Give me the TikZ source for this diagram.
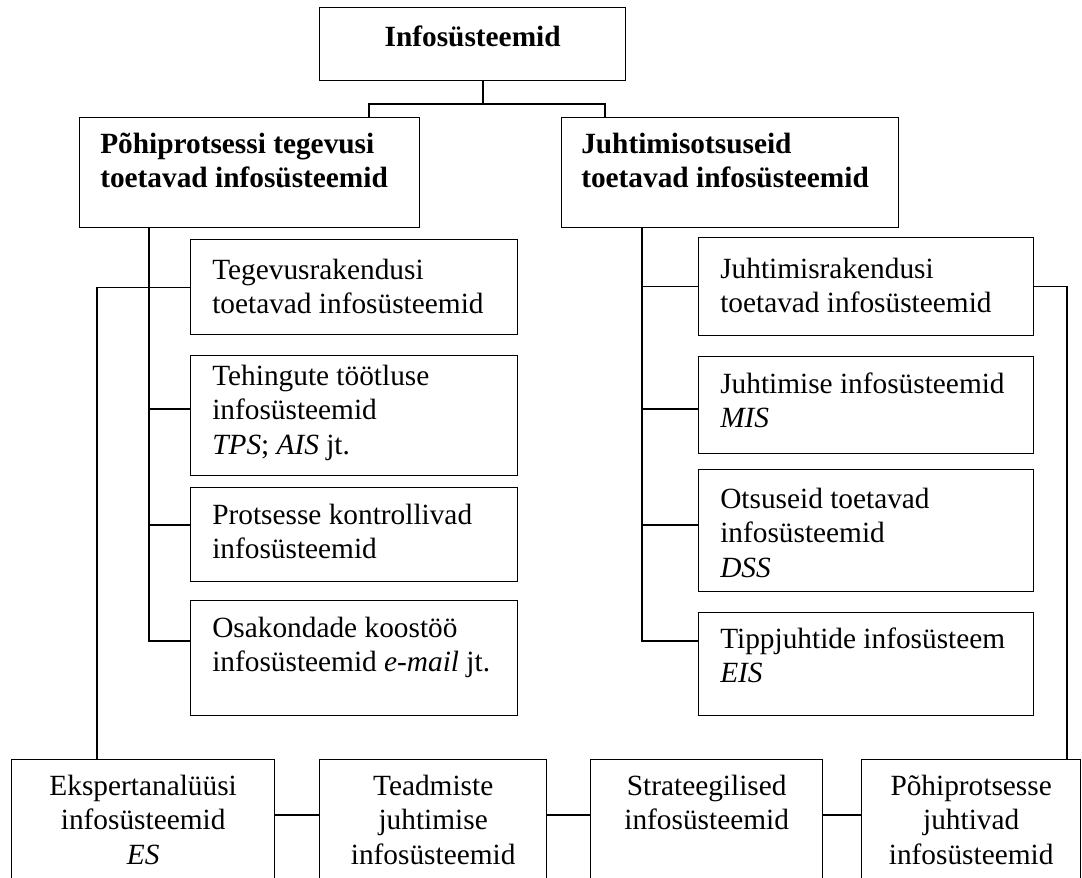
\documentclass[tikz,border=0pt]{standalone}
\usepackage{fontspec}
\setmainfont{Liberation Serif}
\usetikzlibrary{calc}

\newcommand\dfont{\fontsize{22}{25.9}\selectfont}

\tikzset{
  frame/.style={draw=black, line width=1pt, rectangle, inner sep=0pt, anchor=north west},
  wire/.style={draw=black, line width=1pt},
  ltext/.style={inner sep=0pt, anchor=north west, align=left, font=\dfont},
  ctext/.style={inner sep=0pt, anchor=north, align=center, font=\dfont},
  btext/.style={inner sep=0pt, anchor=north west, align=left, font=\dfont\bfseries},
}

% \panel{name}{x1}{y1}{x2}{y2}: an empty framed box between two corners (pixel units)
\newcommand\panel[5]{%
  \node[frame, minimum width={(#4-#2)*0.75pt}, minimum height={(#5-#3)*0.75pt}] (#1) at (#2,#3) {};}

\begin{document}
\begin{tikzpicture}[x=0.75pt, y=-0.75pt]
\useasboundingbox (0,0) rectangle (1082,878);
\clip (0,0) rectangle (1082,878);

% boxes
\panel{top}{319}{7}{625}{80}
\panel{L}{79}{117}{419}{227}
\panel{J}{561}{117}{898}{227}

\panel{C1}{190}{239}{517}{334}
\panel{C2}{190}{355}{517}{475}
\panel{C3}{190}{487}{517}{581}
\panel{C4}{190}{600}{517}{715}

\panel{R1}{698}{237}{1033}{335}
\panel{R2}{698}{356}{1033}{453}
\panel{R3}{698}{469}{1033}{591}
\panel{R4}{698}{612}{1033}{715}

\panel{B1}{11}{759}{274}{895}
\panel{B2}{319}{759}{546}{895}
\panel{B3}{590}{759}{822}{895}
\panel{B4}{861}{759}{1080}{895}

% texts
\node[inner sep=0pt, anchor=north, font=\dfont\bfseries] (top-t) at ($(top.north)+(0,14.8)$) {\strut Infosüsteemid};
\node[btext] (L-t) at ($(L.north west)+(21,11.8)$) {\strut Põhiprotsessi tegevusi\\toetavad infosüsteemid};
\node[btext] (J-t) at ($(J.north west)+(20,11.8)$) {\strut Juhtimisotsuseid\\toetavad infosüsteemid};

\node[ltext] (C1-t) at ($(C1.north west)+(22,15.8)$) {\strut Tegevusrakendusi\\toetavad infosüsteemid};
\node[ltext] (C2-t) at ($(C2.north west)+(22,5.8)$) {\strut Tehingute töötluse\\infosüsteemid\\\textit{TPS}; \textit{AIS} jt.};
\node[ltext] (C3-t) at ($(C3.north west)+(22,12.8)$) {\strut Protsesse kontrollivad\\infosüsteemid};
\node[ltext] (C4-t) at ($(C4.north west)+(22,12.8)$) {\strut Osakondade koostöö\\infosüsteemid \textit{e-mail} jt.};

\node[ltext] (R1-t) at ($(R1.north west)+(22,16.8)$) {\strut Juhtimisrakendusi\\toetavad infosüsteemid};
\node[ltext] (R2-t) at ($(R2.north west)+(22,12.8)$) {\strut Juhtimise infosüsteemid\\\textit{MIS}};
\node[ltext] (R3-t) at ($(R3.north west)+(22,14.8)$) {\strut Otsuseid toetavad\\infosüsteemid\\\textit{DSS}};
\node[ltext] (R4-t) at ($(R4.north west)+(22,11.8)$) {\strut Tippjuhtide infosüsteem\\\textit{EIS}};

\node[ctext] (B1-t) at ($(B1.north)+(0,11.8)$) {\strut Ekspertanalüüsi\\infosüsteemid\\\textit{ES}};
\node[ctext] (B2-t) at ($(B2.north)+(0,11.8)$) {\strut Teadmiste\\juhtimise\\infosüsteemid};
\node[ctext] (B3-t) at ($(B3.north)+(0,11.8)$) {\strut Strateegilised\\infosüsteemid};
\node[ctext] (B4-t) at ($(B4.north)+(0,11.8)$) {\strut Põhiprotsesse\\juhtivad\\infosüsteemid};

% connector guide positions
\coordinate (hub) at (483,104);
\coordinate (hl) at (369,104);
\coordinate (hr) at (605,104);
\coordinate (lt) at (149,0);
\coordinate (ol) at (97,0);
\coordinate (rt) at (642,0);
\coordinate (or) at (1067,0);
\coordinate (s2) at (0,409);
\coordinate (s3) at (0,525);
\coordinate (s4) at (0,641);
\coordinate (row) at (0,815);

% top split
\draw[wire] (top.south -| hub) -- (hub);
\draw[wire] (hl |- L.north) -- (hl) -- (hr) -- (hr |- J.north);

% left branch
\draw[wire] (lt |- L.south) -- (lt |- s4) -- (C4.west |- s4);
\draw[wire] (B1.north -| ol) |- (C1.west);
\draw[wire] (lt |- s2) -- (C2.west |- s2);
\draw[wire] (lt |- s3) -- (C3.west |- s3);

% right branch
\draw[wire] (rt |- J.south) -- (rt |- s4) -- (R4.west |- s4);
\draw[wire] (rt |- R1.west) -- (R1.west);
\draw[wire] (rt |- s2) -- (R2.west |- s2);
\draw[wire] (rt |- s3) -- (R3.west |- s3);
\draw[wire] (R1.east) -| (B4.north -| or);

% bottom row
\draw[wire] (B1.east |- row) -- (B2.west |- row);
\draw[wire] (B2.east |- row) -- (B3.west |- row);
\draw[wire] (B3.east |- row) -- (B4.west |- row);
\end{tikzpicture}
\end{document}
